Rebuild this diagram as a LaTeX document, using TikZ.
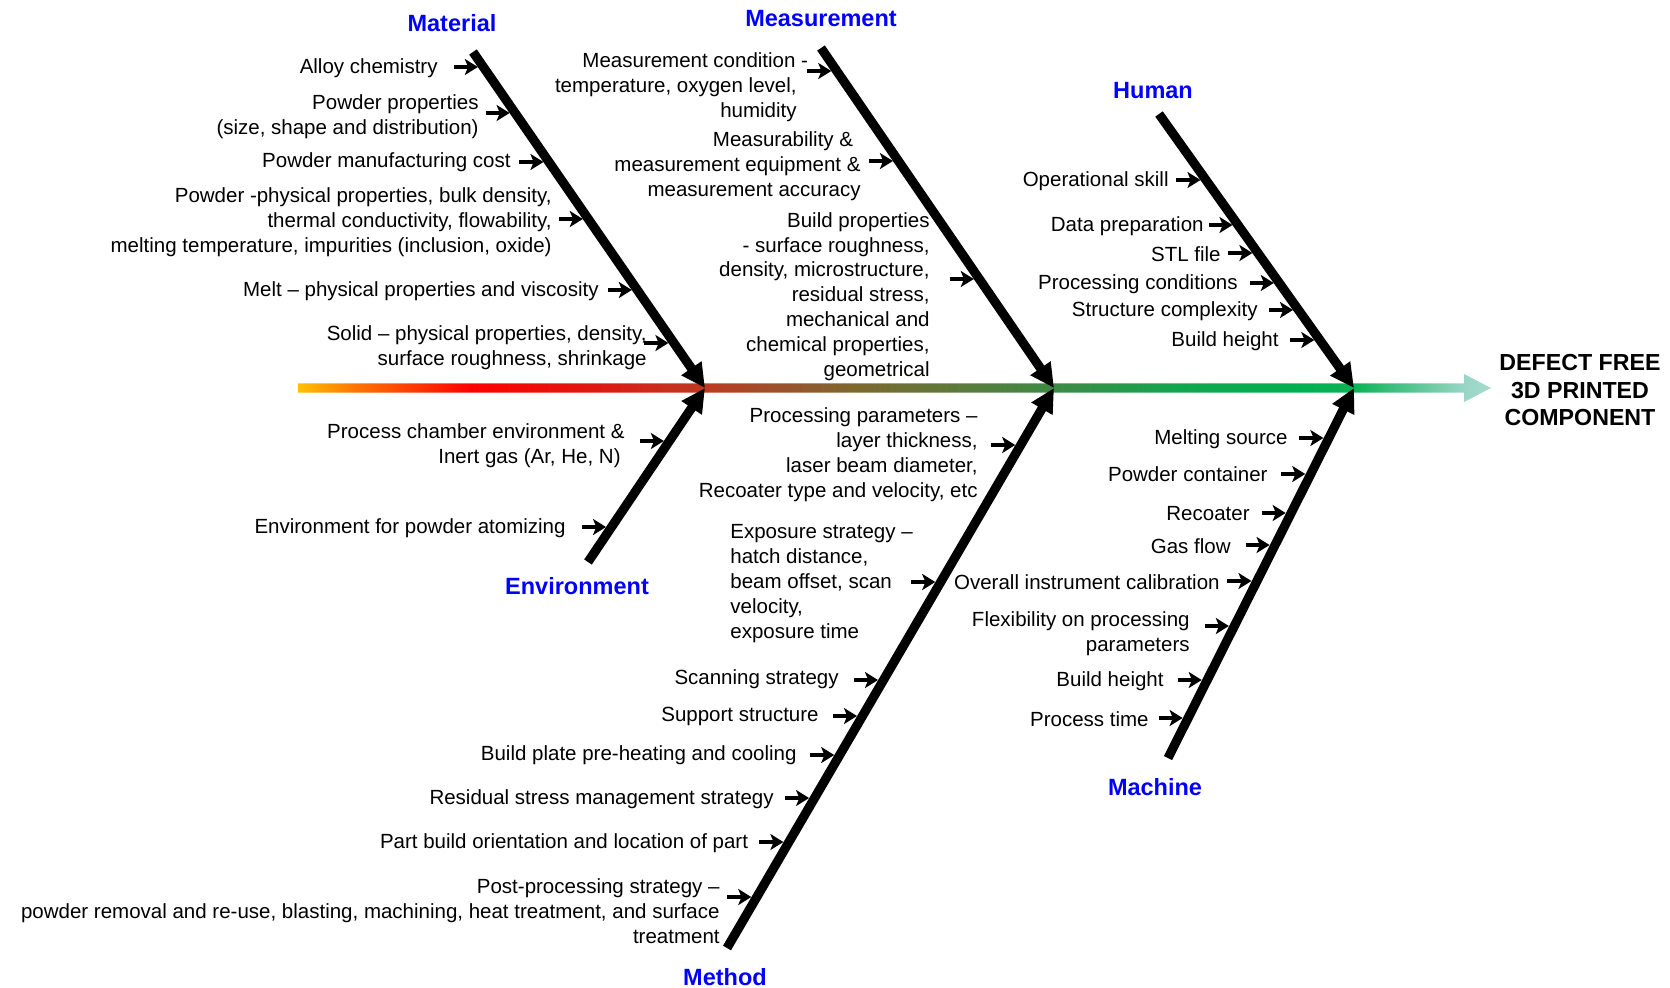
\documentclass[tikz,border=0pt]{standalone}
\usepackage{fontspec}
\setmainfont{Liberation Sans}
\usetikzlibrary{arrows.meta,calc}

\definecolor{catblue}{HTML}{0000FF}
\definecolor{spA}{HTML}{FFC000}
\definecolor{spB}{HTML}{FF7200}
\definecolor{spC}{HTML}{FF0000}
\definecolor{spD}{HTML}{DD1A12}
\definecolor{spE}{HTML}{BC3A22}
\definecolor{spF}{HTML}{A24C2A}
\definecolor{spG}{HTML}{7A6A30}
\definecolor{spH}{HTML}{3D8A45}
\definecolor{spI}{HTML}{12A64E}
\definecolor{spJ}{HTML}{00B050}
\definecolor{spK}{HTML}{0CB256}
\definecolor{spL}{HTML}{98D5C5}
\definecolor{spM}{HTML}{A6DBCF}

\pgfdeclarehorizontalshading{spineshade}{100bp}{color(0bp)=(spA); color(25bp)=(spA); color(27.47bp)=(spB); color(32.21bp)=(spC); color(37.66bp)=(spD); color(42.06bp)=(spE); color(44.36bp)=(spF); color(48.68bp)=(spG); color(56.73bp)=(spH); color(61.97bp)=(spI); color(66.99bp)=(spJ); color(69.26bp)=(spK); color(73.83bp)=(spL); color(75bp)=(spM); color(100bp)=(spM)}

% twig arrow: ends at left edge of rib (xA,yA)--(xB,yB) at height y
\newcommand\twig[5]{%
  \pgfmathsetmacro\twx{#1+(#3-#1)/(#4-#2)*(#5-#2)-5.5}%
  \draw[twig] (\twx-24,#5) -- (\twx,#5);}
\newcommand\matT[1]{\twig{473}{52}{705}{388}{#1}}
\newcommand\envT[1]{\twig{588}{562}{705}{388}{#1}}
\newcommand\meaT[1]{\twig{821}{48}{1054}{388}{#1}}
\newcommand\metT[1]{\twig{727}{948}{1054}{388}{#1}}
\newcommand\humT[1]{\twig{1159}{114}{1354}{388}{#1}}
\newcommand\macT[1]{\twig{1168}{758}{1354}{388}{#1}}

\begin{document}
\begin{tikzpicture}[x=0.5pt,y=-0.5pt,
  body/.style={font=\fontsize{10.25}{12.43}\selectfont, inner sep=0pt, align=right, anchor=east, text=black, yshift=-0.75pt},
  cat/.style={font=\fontsize{11.75}{14}\selectfont\bfseries, text=catblue, inner sep=0pt, yshift=-0.5pt},
  rib/.style={line width=4.6pt, -{Triangle[length=12pt,width=11.5pt]}},
  twig/.style={line width=2.1pt, -{Stealth[length=6.5pt,width=8pt,inset=1.6pt]}},
]
\useasboundingbox (0,0) rectangle (1670,987);

% spine
\shade[shading=spineshade] (298,383.3) -- (1464,383.3) -- (1464,374) -- (1491,388) -- (1464,402) -- (1464,392.7) -- (298,392.7) -- cycle;

% rib ends
\coordinate (matTop) at (473,52);
\coordinate (envBot) at (588,562);
\coordinate (tipA) at (705,388);
\coordinate (meaTop) at (821,48);
\coordinate (metBot) at (727,948);
\coordinate (tipB) at (1054,388);
\coordinate (humTop) at (1159,114);
\coordinate (macBot) at (1168,758);
\coordinate (tipC) at (1354,388);

\draw[rib] (matTop) -- (tipA);
\draw[rib] (envBot) -- (tipA);
\draw[rib] (meaTop) -- (tipB);
\draw[rib] (metBot) -- (tipB);
\draw[rib] (humTop) -- (tipC);
\draw[rib] (macBot) -- (tipC);

% category labels
\node[cat] (lMat) at (452,22) {Material};
\node[cat] (lMea) at (821,18) {Measurement};
\node[cat] (lHum) at (1153,90) {Human};
\node[cat] (lEnv) at (577,585) {Environment};
\node[cat] (lMet) at (725,976) {Method};
\node[cat] (lMac) at (1155,786) {Machine};
\node[font=\fontsize{11.6}{13.85}\selectfont\bfseries, align=center, inner sep=0pt] (goal) at (1580,390) {DEFECT FREE\\3D PRINTED\\COMPONENT};

% Material
\node[body] (m1) at (438,67) {Alloy chemistry}; \matT{67}
\node[body] (m2) at (479,115) {Powder properties\\(size, shape and distribution)}; \matT{113}
\node[body] (m3) at (511,161) {Powder manufacturing cost}; \matT{162}
\node[body] (m4) at (552,221) {Powder -physical properties, bulk density,\\thermal conductivity, flowability,\\melting temperature, impurities (inclusion, oxide)}; \matT{219}
\node[body] (m5) at (599,290) {Melt – physical properties and viscosity}; \matT{290}
\node[body] (m6) at (647,346) {Solid – physical properties, density,\\surface roughness, shrinkage}; \matT{343}

% Environment
\node[body] (e1) at (625,444) {Process chamber environment \&\\Inert gas (Ar, He, N)\hspace*{2pt}}; \envT{441}
\node[body] (e2) at (566,527) {Environment for powder atomizing}; \envT{527}

% Measurement
\node[body] (s1) at (797,86) {Measurement condition -\hspace*{-5.75pt}\\temperature, oxygen level,\\humidity}; \meaT{71}
\node[body] (s2) at (861,165) {Measurability \&\hspace*{3.75pt}\\measurement equipment \&\hspace*{3.75pt}\\measurement accuracy}; \meaT{161}
\node[body] (s3) at (930,295) {Build properties\\- surface roughness,\\density, microstructure,\\residual stress,\\mechanical and\\chemical properties,\\geometrical}; \meaT{279}

% Method
\node[body] (t1) at (978,453) {Processing parameters –\\layer thickness,\\laser beam diameter,\\Recoater type and velocity, etc}; \metT{445}
\node[body, align=left, anchor=west] (t2) at (730,582) {Exposure strategy –\\hatch distance,\\beam offset, scan\\velocity,\\exposure time}; \metT{582}
\node[body] (t3) at (839,678) {Scanning strategy}; \metT{680}
\node[body] (t4) at (819,715) {Support structure}; \metT{716}
\node[body] (t5) at (797,754) {Build plate pre-heating and cooling}; \metT{755}
\node[body] (t6) at (774,798) {Residual stress management strategy}; \metT{798}
\node[body] (t7) at (748.5,842) {Part build orientation and location of part}; \metT{842}
\node[body] (t8) at (720,910) {Post-processing strategy –\\powder removal and re-use, blasting, machining, heat treatment, and surface\\treatment}; \metT{897}

% Human
\node[body] (h1) at (1169,180) {Operational skill}; \humT{180}
\node[body] (h2) at (1204,225) {Data preparation}; \humT{225}
\node[body] (h3) at (1221,253) {STL file}; \humT{253}
\node[body] (h4) at (1238,283) {Processing conditions}; \humT{283}
\node[body] (h5) at (1258,310) {Structure complexity}; \humT{310}
\node[body] (h6) at (1279,340) {Build height}; \humT{340}

% Machine
\node[body] (k1) at (1288,438) {Melting source}; \macT{438}
\node[body] (k2) at (1268,473) {Powder container}; \macT{474}
\node[body] (k3) at (1250,512) {Recoater}; \macT{513}
\node[body] (k4) at (1231,545) {Gas flow}; \macT{545}
\node[body] (k5) at (1220,581) {Overall instrument calibration}; \macT{581}
\node[body] (k6) at (1190,632) {Flexibility on processing\\parameters}; \macT{626}
\node[body] (k7) at (1164,680) {Build height}; \macT{680}
\node[body] (k8) at (1149,718) {Process time}; \macT{718}
\end{tikzpicture}
\end{document}
